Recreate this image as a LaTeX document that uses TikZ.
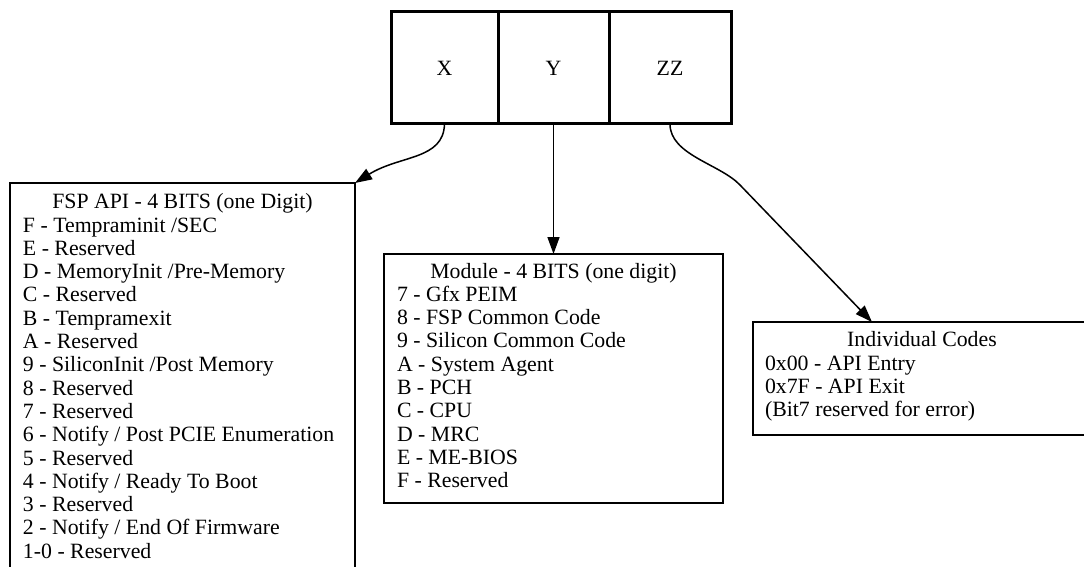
\documentclass[tikz,border=0pt]{standalone}
\usepackage{fontspec}
\setmainfont{Liberation Serif}
\usetikzlibrary{arrows.meta,calc}
\begin{document}
\begin{tikzpicture}[x=1pt,y=-1pt,
  every node/.style={font=\fontsize{21.8}{23.3}\selectfont, inner sep=0pt, outer sep=0pt},
  cell/.style={draw, line width=3pt, minimum height=112pt},
  box/.style={draw, line width=1.6pt},
  arr/.style={line width=1.5pt, -{Triangle[length=17pt,width=12pt]}},
  item/.style={anchor=base west},
  head/.style={anchor=base}]
\useasboundingbox (0,0) rectangle (1084,567);
\fill[white] (0,0) rectangle (1084,567);
\clip (0,0) rectangle (1084,567);
% record
\node[cell, minimum width=107pt] (X) at (444.5,68) {X};
\node[cell, minimum width=111pt] (Y) at (553.5,68) {Y};
\node[cell, minimum width=122pt] (ZZ) at (670,68) {ZZ};
% boxes
\node[box, minimum width=345pt, minimum height=417pt] (fsp) at (182.5,391.5) {};
\node[box, minimum width=339pt, minimum height=249pt] (mod) at (553.5,378.5) {};
\node[box, minimum width=338pt, minimum height=113pt] (ic) at (922,378.5) {};
% texts
\node[head] (fsph) at (182.5,208.7) {FSP API - 4 BITS (one Digit)};
\foreach \t [count=\i] in {{F - Tempraminit /SEC},{E - Reserved},{D - MemoryInit /Pre-Memory},{C - Reserved},{B - Tempramexit},{A - Reserved},{9 - SiliconInit /Post Memory},{8 - Reserved},{7 - Reserved},{6 - Notify / Post PCIE Enumeration},{5 - Reserved},{4 - Notify / Ready To Boot},{3 - Reserved},{2 - Notify / End Of Firmware},{1-0 - Reserved}}
  \node[item] (fsp\i) at (23,{232+(\i-1)*23.3}) {\t};
\node[head] (modh) at (553.5,278) {Module - 4 BITS (one digit)};
\foreach \t [count=\i] in {{7 - Gfx PEIM},{8 - FSP Common Code},{9 - Silicon Common Code},{A - System Agent},{B - PCH},{C - CPU},{D - MRC},{E - ME-BIOS},{F - Reserved}}
  \node[item] (mod\i) at (397,{301.3+(\i-1)*23.3}) {\t};
\node[head] (ich) at (922,346.7) {Individual Codes};
\foreach \t [count=\i] in {{0x00 - API Entry},{0x7F - API Exit},{(Bit7 reserved for error)}}
  \node[item] (ic\i) at (765,{370+(\i-1)*23.3}) {\t};
% connectors
\draw[arr] (X.south) .. controls (443.5,160) and (400,155) .. (fsp.north east);
\draw[arr] (Y.south) -- (Y.south |- mod.north);
\draw[arr] (ZZ.south) .. controls (670,155) and (720,164) .. (740,185) -- ($(ic.north west)+(119,0)$);
\end{tikzpicture}
\end{document}
